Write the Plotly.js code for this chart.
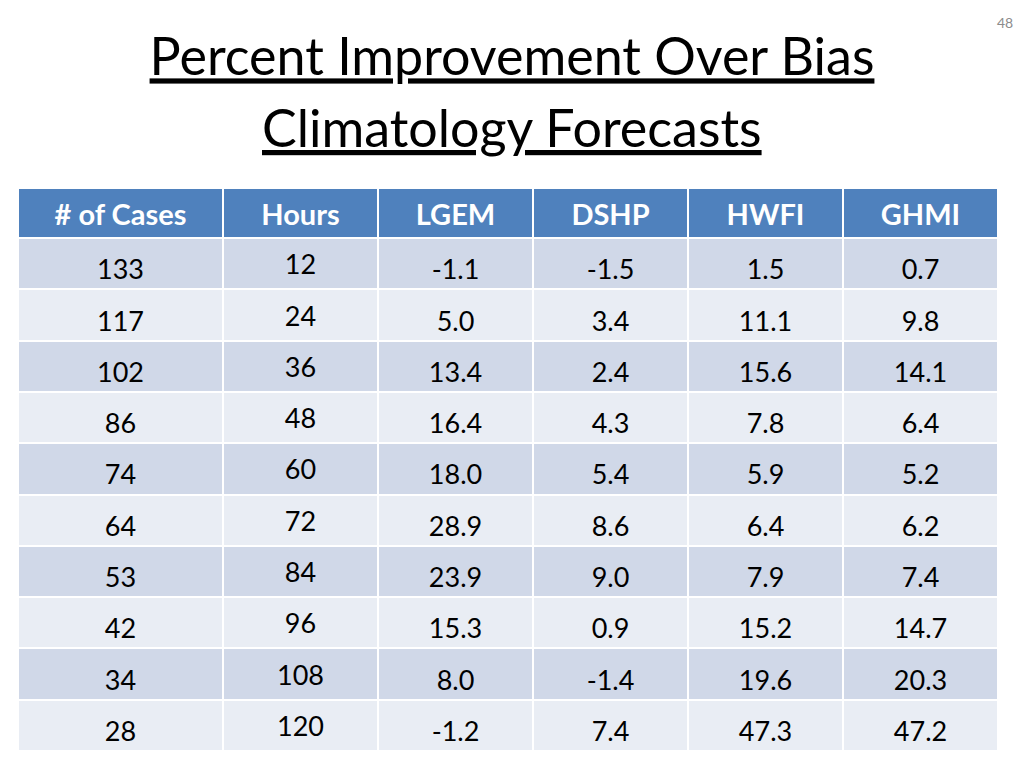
<!DOCTYPE html>
<html>
<head>
<meta charset="utf-8">
<script src="https://cdn.plot.ly/plotly-3.0.1.min.js"></script>
<style>html,body{margin:0;padding:0;background:#fff;}#chart{width:1024px;height:768px;}</style>
</head>
<body>
<div id="chart"></div>
<script>
const headers = ["# of Cases", "Hours", "LGEM", "DSHP", "HWFI", "GHMI"];
const cases = [133, 117, 102, 86, 74, 64, 53, 42, 34, 28];
const hours = [12, 24, 36, 48, 60, 72, 84, 96, 108, 120];
const lgem = [-1.1, 5.0, 13.4, 16.4, 18.0, 28.9, 23.9, 15.3, 8.0, -1.2];
const dshp = [-1.5, 3.4, 2.4, 4.3, 5.4, 8.6, 9.0, 0.9, -1.4, 7.4];
const hwfi = [1.5, 11.1, 15.6, 7.8, 5.9, 6.4, 7.9, 15.2, 19.6, 47.3];
const ghmi = [0.7, 9.8, 14.1, 6.4, 5.2, 6.2, 7.4, 14.7, 20.3, 47.2];

const FONT = "Lato, 'Open Sans', sans-serif";
const rowFill = cases.map((_, i) => i % 2 === 0 ? "#D0D8E8" : "#E9EDF4");

const data = [{
  type: "table",
  domain: {x: [18/1024, 998/1024], y: [1 - 752/768, 1 - 188/768]},
  columnwidth: [205, 155, 155, 155, 155, 155],
  header: {
    values: headers,
    height: 50,
    align: "center",
    fill: {color: "#4F81BD"},
    line: {color: "#FFFFFF", width: 2},
    font: {family: FONT, size: 29, color: "#FFFFFF", weight: "bold"}
  },
  cells: {
    values: [cases, hours, lgem, dshp, hwfi, ghmi],
    format: ["", "", ".1f", ".1f", ".1f", ".1f"],
    height: 51.3,
    align: "center",
    fill: {color: [rowFill, rowFill, rowFill, rowFill, rowFill, rowFill]},
    line: {color: "#FFFFFF", width: 2},
    font: {family: FONT, size: 27, color: "#000000"}
  }
}];

const layout = {
  width: 1024, height: 768,
  margin: {l: 0, r: 0, t: 0, b: 0},
  paper_bgcolor: "#FFFFFF",
  showlegend: false,
  title: {
    text: '<span style="text-decoration:underline;text-underline-offset:8px">Percent Improvement Over Bias</span>',
    font: {family: FONT, size: 52, color: "#000000"},
    x: 0.5, xanchor: "center",
    y: 1 - 39/768, yanchor: "top"
  },
  annotations: [
    {
      text: '<span style="text-decoration:underline;text-underline-offset:8px">Climatology Forecasts</span>',
      xref: "paper", yref: "paper", x: 0.5, y: 1 - 94/768,
      xanchor: "center", yanchor: "top", showarrow: false,
      font: {family: FONT, size: 52, color: "#000000"}
    },
    {
      text: "48",
      xref: "paper", yref: "paper", x: 1 - 9/1024, y: 1 - 12/768,
      xanchor: "right", yanchor: "top", showarrow: false,
      font: {family: FONT, size: 14, color: "#8C8C8C"}
    }
  ]
};

function nudgeText(gd) {
  const cols = gd.querySelectorAll('.y-column');
  cols.forEach((col, i) => {
    col.querySelectorAll('.column-block').forEach(block => {
      const d = block.__data__ || {};
      const isHeader = block.id === 'header' || d.type === 'header' || d.key === 'header';
      const dy = isHeader ? 7 : (i === 1 ? 8 : 13);
      block.querySelectorAll('.cell-text').forEach(t => { t.style.translate = '0px ' + dy + 'px'; });
    });
  });
}

Plotly.newPlot("chart", data, layout, {displayModeBar: false, staticPlot: true}).then(nudgeText);
</script>
</body>
</html>
